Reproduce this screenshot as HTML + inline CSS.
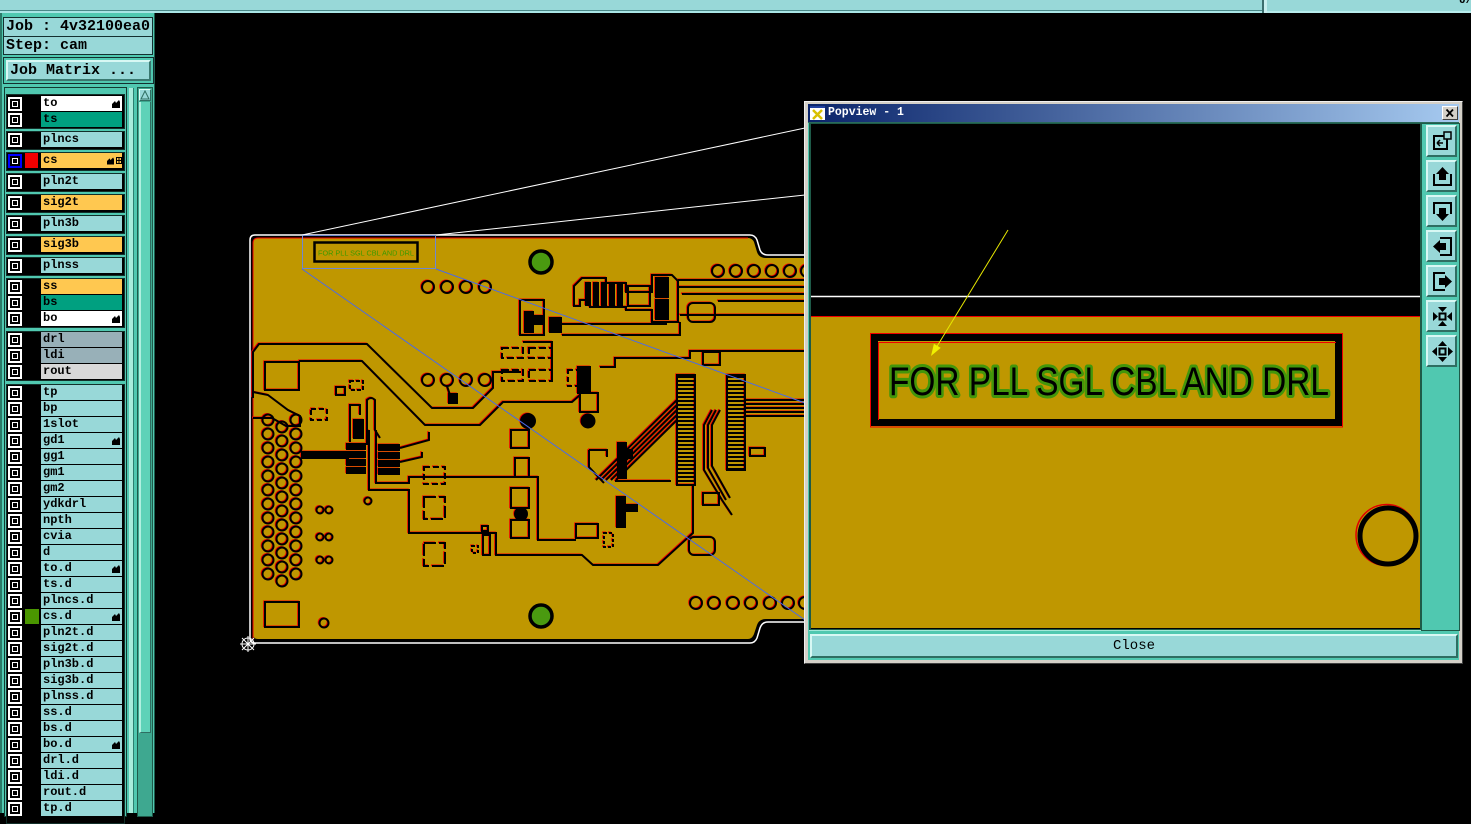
<!DOCTYPE html>
<html><head><meta charset="utf-8">
<style>
*{margin:0;padding:0;box-sizing:border-box}
body{width:1471px;height:813px;background:#000;position:relative;overflow:hidden;font-family:"Liberation Mono",monospace}
.a{position:absolute}
.g{position:absolute;left:6px;width:119px;background:#000;border:1px solid #12302a}
.cb{position:absolute;left:8px;width:14px;height:14px;background:#fff}
.cb i{position:absolute;left:2px;top:2px;width:10px;height:10px;background:#000}
.cb i b{position:absolute;left:2px;top:2px;width:6px;height:6px;border:1px solid #fff;background:#000}
.lb{position:absolute;left:41px;width:81px;height:15px;background:#98d8d8;font:bold 12px/15px "Liberation Mono",monospace;color:#000;padding-left:2px;white-space:nowrap}
.w{background:#fff}.tg{background:#00a080}.y{background:#ffc850}.gr{background:#98b0b8}.lg{background:#d8d8d8}
.h{position:absolute;right:2px;top:4px;width:8px;height:8px}
.tb{position:absolute;left:1426px;width:31px;height:32px;background:#98d8d8;border-top:2px solid #d8f8f4;border-left:2px solid #d8f8f4;border-right:2px solid #2e6e62;border-bottom:2px solid #2e6e62}
.tb svg{position:absolute;left:3px;top:3px}
</style></head><body>

<!-- top bar -->
<div class="a" style="left:0;top:0;width:1263px;height:10px;background:#98d8d8"></div>
<div class="a" style="left:0;top:10px;width:1263px;height:1px;background:#4a8888"></div>
<div class="a" style="left:0;top:11px;width:1263px;height:2px;background:#a8e4e4"></div>
<div class="a" style="left:1262px;top:0;width:2px;height:13px;background:#3c6e6e"></div>
<div class="a" style="left:1264px;top:0;width:3px;height:13px;background:#c8eeee"></div>
<div class="a" style="left:1267px;top:0;width:204px;height:11px;background:#98d8d8"></div>
<div class="a" style="left:1267px;top:11px;width:204px;height:2px;background:#b8ecec"></div>
<div class="a" style="left:1459px;top:-5px;font:bold 11px 'Liberation Mono',monospace;color:#000">U/</div>

<!-- left panel -->
<div class="a" style="left:0;top:13px;width:155px;height:800px;background:#50c8b0;border-left:2px solid #2a7a68;border-right:1px solid #1f5f50"></div>
<div class="a" style="left:3px;top:17px;width:150px;height:20px;background:#98d8d8;border:1px solid #143030;font:bold 15px/18px 'Liberation Mono',monospace;padding-left:2px;color:#000">Job : 4v32100ea0</div>
<div class="a" style="left:3px;top:36px;width:150px;height:19px;background:#98d8d8;border:1px solid #143030;font:bold 15px/17px 'Liberation Mono',monospace;padding-left:2px;color:#000">Step: cam</div>
<div class="a" style="left:3px;top:57px;width:151px;height:27px;border:1px solid #143030;background:#50c8b0"></div>
<div class="a" style="left:6px;top:60px;width:145px;height:21px;background:#98d8d8;border-top:2px solid #d8f8f4;border-left:2px solid #d8f8f4;border-right:2px solid #3a7870;border-bottom:2px solid #3a7870;font:bold 15px/17px 'Liberation Mono',monospace;padding-left:2px;color:#000">Job Matrix ...</div>

<!-- list frame -->
<div class="a" style="left:4px;top:87px;width:123px;height:730px;border:1px solid #143a32;background:#50c8b0"></div>
<div class="a" style="left:129px;top:88px;width:4px;height:725px;background:#a8ecdc"></div>
<div class="a" style="left:133px;top:88px;width:1px;height:725px;background:#2a8070"></div>
<div class="a" style="left:137px;top:87px;width:16px;height:730px;border:1px solid #1e5a4a;background:#3ea890"></div>
<div class="a" style="left:139px;top:89px;width:12px;height:12px;background:#98d8d8;border-top:1px solid #e0fff8;border-left:1px solid #e0fff8;border-right:1px solid #2e6e62;border-bottom:1px solid #2e6e62"></div>
<svg class="a" style="left:139px;top:89px" width="12" height="12"><polygon points="6,2 10,10 2,10" fill="none" stroke="#2e6e62" stroke-width="1"/></svg>
<div class="a" style="left:139px;top:102px;width:12px;height:631px;background:#5ed2b8;border-left:2px solid #b0f0e0;border-right:1px solid #2e6e62;border-bottom:1px solid #2e6e62"></div>

<!-- groups -->
<div class="g" style="top:94px;height:35px"></div>
<div class="g" style="top:131px;height:19px"></div>
<div class="g" style="top:152px;height:19px"></div>
<div class="g" style="top:173px;height:19px"></div>
<div class="g" style="top:194px;height:19px"></div>
<div class="g" style="top:215px;height:19px"></div>
<div class="g" style="top:236px;height:19px"></div>
<div class="g" style="top:257px;height:19px"></div>
<div class="g" style="top:278px;height:50px"></div>
<div class="g" style="top:331px;height:50px"></div>
<div class="g" style="top:384px;height:440px"></div>

<!-- rows -->
<div class="cb" style="top:97px"><i><b></b></i></div><div class="lb w" style="top:96px">to<svg class="h" viewBox="0 0 8 8"><path d="M0 8V4L3 1L4 3L7 0L8 2V8Z" fill="#000"/></svg></div>
<div class="cb" style="top:113px"><i><b></b></i></div><div class="lb tg" style="top:112px">ts</div>
<div class="cb" style="top:133px"><i><b></b></i></div><div class="lb" style="top:132px">plncs</div>
<div class="cb" style="top:154px;background:#0000ff"><i><b></b></i></div><div class="a" style="left:25px;top:153px;width:13px;height:15px;background:#f00000"></div><div class="lb y" style="top:153px">cs<svg class="a" style="left:66px;top:4px" width="7" height="8" viewBox="0 0 8 8"><path d="M0 8V4L3 1L4 3L7 0L8 2V8Z" fill="#000"/></svg><svg class="a" style="left:75px;top:4px" width="6" height="7"><rect x="0.5" y="0.5" width="5" height="6" fill="none" stroke="#000"/><path d="M3 1V6M1 3.5H5" stroke="#000"/></svg></div>
<div class="cb" style="top:175px"><i><b></b></i></div><div class="lb" style="top:174px">pln2t</div>
<div class="cb" style="top:196px"><i><b></b></i></div><div class="lb y" style="top:195px">sig2t</div>
<div class="cb" style="top:217px"><i><b></b></i></div><div class="lb" style="top:216px">pln3b</div>
<div class="cb" style="top:238px"><i><b></b></i></div><div class="lb y" style="top:237px">sig3b</div>
<div class="cb" style="top:259px"><i><b></b></i></div><div class="lb" style="top:258px">plnss</div>
<div class="cb" style="top:280px"><i><b></b></i></div><div class="lb y" style="top:279px">ss</div>
<div class="cb" style="top:296px"><i><b></b></i></div><div class="lb tg" style="top:295px">bs</div>
<div class="cb" style="top:312px"><i><b></b></i></div><div class="lb w" style="top:311px">bo<svg class="h" viewBox="0 0 8 8"><path d="M0 8V4L3 1L4 3L7 0L8 2V8Z" fill="#000"/></svg></div>
<div class="cb" style="top:333px"><i><b></b></i></div><div class="lb gr" style="top:332px">drl</div>
<div class="cb" style="top:349px"><i><b></b></i></div><div class="lb gr" style="top:348px">ldi</div>
<div class="cb" style="top:365px"><i><b></b></i></div><div class="lb lg" style="top:364px">rout</div>
<div class="cb" style="top:386px"><i><b></b></i></div><div class="lb" style="top:385px">tp</div>
<div class="cb" style="top:402px"><i><b></b></i></div><div class="lb" style="top:401px">bp</div>
<div class="cb" style="top:418px"><i><b></b></i></div><div class="lb" style="top:417px">1slot</div>
<div class="cb" style="top:434px"><i><b></b></i></div><div class="lb" style="top:433px">gd1<svg class="h" viewBox="0 0 8 8"><path d="M0 8V4L3 1L4 3L7 0L8 2V8Z" fill="#000"/></svg></div>
<div class="cb" style="top:450px"><i><b></b></i></div><div class="lb" style="top:449px">gg1</div>
<div class="cb" style="top:466px"><i><b></b></i></div><div class="lb" style="top:465px">gm1</div>
<div class="cb" style="top:482px"><i><b></b></i></div><div class="lb" style="top:481px">gm2</div>
<div class="cb" style="top:498px"><i><b></b></i></div><div class="lb" style="top:497px">ydkdrl</div>
<div class="cb" style="top:514px"><i><b></b></i></div><div class="lb" style="top:513px">npth</div>
<div class="cb" style="top:530px"><i><b></b></i></div><div class="lb" style="top:529px">cvia</div>
<div class="cb" style="top:546px"><i><b></b></i></div><div class="lb" style="top:545px">d</div>
<div class="cb" style="top:562px"><i><b></b></i></div><div class="lb" style="top:561px">to.d<svg class="h" viewBox="0 0 8 8"><path d="M0 8V4L3 1L4 3L7 0L8 2V8Z" fill="#000"/></svg></div>
<div class="cb" style="top:578px"><i><b></b></i></div><div class="lb" style="top:577px">ts.d</div>
<div class="cb" style="top:594px"><i><b></b></i></div><div class="lb" style="top:593px">plncs.d</div>
<div class="cb" style="top:610px"><i><b></b></i></div><div class="a" style="left:25px;top:609px;width:14px;height:15px;background:#4a9600"></div><div class="lb" style="top:609px">cs.d<svg class="h" viewBox="0 0 8 8"><path d="M0 8V4L3 1L4 3L7 0L8 2V8Z" fill="#000"/></svg></div>
<div class="cb" style="top:626px"><i><b></b></i></div><div class="lb" style="top:625px">pln2t.d</div>
<div class="cb" style="top:642px"><i><b></b></i></div><div class="lb" style="top:641px">sig2t.d</div>
<div class="cb" style="top:658px"><i><b></b></i></div><div class="lb" style="top:657px">pln3b.d</div>
<div class="cb" style="top:674px"><i><b></b></i></div><div class="lb" style="top:673px">sig3b.d</div>
<div class="cb" style="top:690px"><i><b></b></i></div><div class="lb" style="top:689px">plnss.d</div>
<div class="cb" style="top:706px"><i><b></b></i></div><div class="lb" style="top:705px">ss.d</div>
<div class="cb" style="top:722px"><i><b></b></i></div><div class="lb" style="top:721px">bs.d</div>
<div class="cb" style="top:738px"><i><b></b></i></div><div class="lb" style="top:737px">bo.d<svg class="h" viewBox="0 0 8 8"><path d="M0 8V4L3 1L4 3L7 0L8 2V8Z" fill="#000"/></svg></div>
<div class="cb" style="top:754px"><i><b></b></i></div><div class="lb" style="top:753px">drl.d</div>
<div class="cb" style="top:770px"><i><b></b></i></div><div class="lb" style="top:769px">ldi.d</div>
<div class="cb" style="top:786px"><i><b></b></i></div><div class="lb" style="top:785px">rout.d</div>
<div class="cb" style="top:802px"><i><b></b></i></div><div class="lb" style="top:801px">tp.d</div>

<!-- PCB -->
<svg class="a" style="left:0;top:0" width="1471" height="813" viewBox="0 0 1471 813">
<defs>
<pattern id="hs" width="4" height="4" patternUnits="userSpaceOnUse"><rect width="4" height="2" fill="#000"/></pattern>
<g id="tr">
<circle cx="428" cy="287" r="6"/><circle cx="447" cy="287" r="6"/><circle cx="466" cy="287" r="6"/><circle cx="485" cy="287" r="6"/>
<circle cx="428" cy="380" r="6"/><circle cx="447" cy="380" r="6"/><circle cx="466" cy="380" r="6"/><circle cx="485" cy="380" r="6"/>
<path d="M447 386L450 395"/><rect x="449" y="394" width="8" height="9" fill="#000"/>
<circle cx="718" cy="271" r="6"/><circle cx="736" cy="271" r="6"/><circle cx="754" cy="271" r="6"/><circle cx="772" cy="271" r="6"/><circle cx="790" cy="271" r="6"/><circle cx="807" cy="271" r="6"/>
<circle cx="696" cy="603" r="6"/><circle cx="714" cy="603" r="6"/><circle cx="733" cy="603" r="6"/><circle cx="751" cy="603" r="6"/><circle cx="770" cy="603" r="6"/><circle cx="788" cy="603" r="6"/><circle cx="805" cy="603" r="6"/>
<circle cx="268" cy="420" r="5.5"/><circle cx="268" cy="434" r="5.5"/><circle cx="268" cy="448" r="5.5"/><circle cx="268" cy="462" r="5.5"/><circle cx="268" cy="476" r="5.5"/><circle cx="268" cy="490" r="5.5"/><circle cx="268" cy="504" r="5.5"/><circle cx="268" cy="518" r="5.5"/><circle cx="268" cy="532" r="5.5"/><circle cx="268" cy="546" r="5.5"/><circle cx="268" cy="560" r="5.5"/><circle cx="268" cy="574" r="5.5"/>
<circle cx="282" cy="427" r="5.5"/><circle cx="282" cy="441" r="5.5"/><circle cx="282" cy="455" r="5.5"/><circle cx="282" cy="469" r="5.5"/><circle cx="282" cy="483" r="5.5"/><circle cx="282" cy="497" r="5.5"/><circle cx="282" cy="511" r="5.5"/><circle cx="282" cy="525" r="5.5"/><circle cx="282" cy="539" r="5.5"/><circle cx="282" cy="553" r="5.5"/><circle cx="282" cy="567" r="5.5"/><circle cx="282" cy="581" r="5.5"/>
<circle cx="296" cy="420" r="5.5"/><circle cx="296" cy="434" r="5.5"/><circle cx="296" cy="448" r="5.5"/><circle cx="296" cy="462" r="5.5"/><circle cx="296" cy="476" r="5.5"/><circle cx="296" cy="490" r="5.5"/><circle cx="296" cy="504" r="5.5"/><circle cx="296" cy="518" r="5.5"/><circle cx="296" cy="532" r="5.5"/><circle cx="296" cy="546" r="5.5"/><circle cx="296" cy="560" r="5.5"/><circle cx="296" cy="574" r="5.5"/>
<circle cx="320" cy="510" r="3.5"/><circle cx="329" cy="510" r="3.5"/><circle cx="320" cy="537" r="3.5"/><circle cx="329" cy="537" r="3.5"/><circle cx="320" cy="560" r="3.5"/><circle cx="329" cy="560" r="3.5"/><circle cx="368" cy="501" r="3.5"/><circle cx="324" cy="623" r="4.5"/>
<rect x="265" y="362" width="34" height="28"/><rect x="265" y="602" width="34" height="25"/>
<path d="M253 398L253 352L259 344L367 344L432 408L473 408L493 388L493 372L521 372"/>
<path d="M299 361L362 361L425 425L480 425L503 402L572 402L580 395"/>
<path d="M253 392L268 395L288 410L300 416L300 426L286 426L272 418L253 418"/>
<path d="M574 297L574 286L582 278L606 278L606 283L626 283L626 292L652 292L652 275L672 275L678 281L678 322L652 322L652 310L626 310L626 307L590 307L590 300L580 300L580 306L574 306Z"/>
<rect x="586" y="283" width="4" height="22" fill="#000"/><rect x="594" y="283" width="4" height="22" fill="#000"/><rect x="602" y="283" width="4" height="22" fill="#000"/><rect x="610" y="283" width="4" height="22" fill="#000"/><rect x="618" y="283" width="4" height="22" fill="#000"/>
<rect x="628" y="286" width="22" height="20"/>
<rect x="656" y="278" width="12" height="19" fill="#000"/><rect x="656" y="300" width="12" height="19" fill="#000"/>
<path d="M678 280H805M678 287H805M682 294H805M718 301H805"/>
<rect x="688" y="303" width="27" height="19" rx="5"/>
<path d="M562 324L667 324"/>
<rect x="520" y="300" width="24" height="35"/><rect x="525" y="312" width="8" height="20" fill="#000"/><rect x="535" y="316" width="7" height="8" fill="#000"/>
<rect x="550" y="318" width="11" height="14" fill="#000"/>
<path d="M523 342L552 342L552 382"/>
<path d="M562 335L680 335L680 322M680 315L805 315M600 367L615 367L615 358L690 358L690 351L805 351"/>
<rect x="502" y="348" width="21" height="10" stroke-dasharray="7 3"/><rect x="529" y="348" width="23" height="10" stroke-dasharray="7 3"/><rect x="502" y="370" width="21" height="11" stroke-dasharray="7 3"/><rect x="529" y="370" width="23" height="11" stroke-dasharray="7 3"/>
<rect x="578" y="367" width="12" height="26" fill="#000"/><rect x="580" y="393" width="18" height="19"/><circle cx="588" cy="421" r="6.5" fill="#000"/><rect x="568" y="370" width="10" height="16" stroke-dasharray="5 3"/>
<rect x="703" y="352" width="17" height="13"/>
<circle cx="528" cy="421" r="7" fill="#000"/>
<path d="M369 430L369 490L409 490L409 533L496 533L496 555L582 555L593 565L658 565L693 533L693 485"/>
<path d="M376 430L376 483L409 483L409 477L538 477L538 540L576 540"/>
<rect x="424" y="467" width="21" height="17" stroke-dasharray="6 3"/>
<rect x="424" y="497" width="21" height="22" stroke-dasharray="12 3"/><rect x="424" y="543" width="21" height="23" stroke-dasharray="12 3"/>
<rect x="511" y="430" width="18" height="18"/><rect x="515" y="458" width="14" height="19"/><rect x="511" y="488" width="18" height="20"/><rect x="511" y="520" width="18" height="18"/>
<circle cx="521" cy="514" r="6" fill="#000"/>
<rect x="472" y="546" width="6" height="7" stroke-dasharray="3 2"/><rect x="483" y="535" width="7" height="20"/><rect x="482" y="526" width="6" height="5"/>
<rect x="689" y="537" width="26" height="18" rx="5"/><rect x="703" y="493" width="16" height="12"/>
<rect x="302" y="452" width="46" height="6" fill="#000"/>
<rect x="347" y="444" width="18" height="5" fill="#000"/><rect x="347" y="452" width="18" height="5" fill="#000"/><rect x="347" y="460" width="18" height="5" fill="#000"/><rect x="347" y="468" width="18" height="5" fill="#000"/>
<rect x="379" y="445" width="20" height="5" fill="#000"/><rect x="379" y="453" width="20" height="5" fill="#000"/><rect x="379" y="461" width="20" height="5" fill="#000"/><rect x="379" y="469" width="20" height="5" fill="#000"/>
<path d="M400 448L429 440L429 432M400 462L422 457L422 452"/>
<path d="M350 442L350 405L360 405L360 415M367 445L367 400Q371 396 375 400L375 430L380 438"/>
<rect x="354" y="420" width="9" height="18" fill="#000"/>
<rect x="336" y="387" width="9" height="8"/><rect x="350" y="381" width="13" height="9" stroke-dasharray="4 2"/><rect x="311" y="409" width="16" height="11" stroke-dasharray="5 3"/>
<path d="M589 450L589 467L604 483M589 450L607 450L607 457M615 481H671"/>
<rect x="618" y="443" width="8" height="35" fill="#000"/><rect x="626" y="450" width="6" height="8" fill="#000"/>
<rect x="617" y="497" width="8" height="30" fill="#000"/><rect x="625" y="505" width="12" height="6" fill="#000"/>
<rect x="576" y="524" width="22" height="14"/><rect x="604" y="533" width="9" height="14" stroke-dasharray="3 2"/>
<path d="M596 480L677 400M601 480L677 405M606 480L677 410M611 480L677 415M616 480L677 420"/>
<path d="M712 410L704 425L704 470L722 500L732 515M716 410L708 425L708 468L726 500M720 410L712 425L712 466L730 498"/>
<path d="M745 400H805M745 404H805M745 408H805M745 412H805M745 416H805"/>
<rect x="750" y="448" width="15" height="8"/>
<rect x="677" y="375" width="18" height="110"/><rect x="727" y="375" width="18" height="95"/>
</g>
</defs>
<!-- board -->
<path d="M253 243Q253 238 258 238L748 238Q752 238 754 242L757 252Q759 258 766 258L810 258L810 619L766 619Q759 619 757 625L754 634Q752 639 748 639L258 639Q253 639 253 634Z" fill="#bf9700"/>
<path d="M253 640L253 243Q253 238 258 238L748 238" fill="none" stroke="#f00000" stroke-width="1"/>
<path d="M250 638L250 240Q250 235 255 235L750 235Q755 235 757 240L760 250Q762 255 768 255L810 255M810 622L768 622Q762 622 760 628L757 638Q755 643 750 643L255 643Q250 643 250 638" fill="none" stroke="#fff" stroke-width="1.5"/>
<use href="#tr" stroke="#f00000" stroke-width="1.6" fill="none" transform="translate(-1,-0.7)"/>
<use href="#tr" stroke="#000" stroke-width="2" fill="none"/>
<rect x="677" y="375" width="18" height="110" fill="url(#hs)"/><rect x="727" y="375" width="18" height="95" fill="url(#hs)"/>
<circle cx="541" cy="262" r="11" fill="#4a9a10" stroke="#000" stroke-width="3.5"/>
<circle cx="541" cy="616" r="11" fill="#4a9a10" stroke="#000" stroke-width="3.5"/>
<rect x="314.5" y="242.5" width="103" height="19" fill="none" stroke="#000" stroke-width="2.5"/>
<text x="318" y="255.5" font-family="Liberation Sans, sans-serif" font-size="7.5" fill="#3a9a00" textLength="96" lengthAdjust="spacingAndGlyphs">FOR PLL SGL CBL AND DRL</text>
<rect x="302.5" y="235.5" width="133" height="33" fill="none" stroke="#7088d0" stroke-width="1"/>
<path d="M302 235L805 128M436 235L805 195" stroke="#fff" stroke-width="1"/>
<path d="M302 269L805 620M436 269L805 403" stroke="#4a6ae8" stroke-width="1"/>
<g stroke="#fff" stroke-width="1" fill="none"><circle cx="248" cy="644" r="6"/><path d="M240 644H256M248 636V652M242 638L254 650M254 638L242 650"/></g>
</svg>

<!-- popup -->
<div class="a" style="left:804px;top:101px;width:659px;height:563px;background:#d4d0c8;border-top:1px solid #f0f0f0;border-left:1px solid #f0f0f0;border-right:1px solid #404040;border-bottom:1px solid #404040"></div>
<div class="a" style="left:808px;top:104px;width:651px;height:18px;background:linear-gradient(90deg,#0a246a,#a6caf0)"></div>
<div class="a" style="left:810px;top:106px;width:15px;height:14px;background:#fff;border-top:2px solid #2040a0"></div>
<svg class="a" style="left:810px;top:108px" width="15" height="12"><path d="M3 2L12 11M12 2L3 11" stroke="#d8c000" stroke-width="2.5"/></svg>
<div class="a" style="left:828px;top:104px;height:18px;font:bold 11.5px/18px 'Liberation Mono',monospace;color:#fff;white-space:pre">Popview - 1</div>
<div class="a" style="left:1442px;top:106px;width:16px;height:14px;background:#d4d0c8;border-top:1px solid #fff;border-left:1px solid #fff;border-right:1px solid #404040;border-bottom:1px solid #404040"></div>
<svg class="a" style="left:1442px;top:106px" width="16" height="14"><path d="M4.5 3.5L11 10.5M11 3.5L4.5 10.5" stroke="#000" stroke-width="1.8"/></svg>
<div class="a" style="left:808px;top:122px;width:651px;height:538px;background:#50c8b0;border-top:1px solid #2a6a5a"></div>
<div class="a" style="left:809px;top:123px;width:614px;height:508px;background:#1e5a48;border-right:1px solid #a0e8d8;border-bottom:1px solid #a0e8d8"></div>
<svg class="a" style="left:811px;top:124px" width="609" height="505" viewBox="811 124 609 505">
<rect x="811" y="124" width="609" height="505" fill="#000"/>
<path d="M811 296.5H1420" stroke="#fff" stroke-width="1.5"/>
<rect x="811" y="316" width="609" height="312" fill="#bf9700"/>
<path d="M811 316.5H1420" stroke="#f00000" stroke-width="1"/>
<rect x="870.5" y="333.5" width="472" height="93.5" fill="none" stroke="#f00000" stroke-width="1"/>
<rect x="874.5" y="337.5" width="464" height="85" fill="none" stroke="#000" stroke-width="7"/>
<path d="M878 342.5H1336M878.5 342V420" stroke="#f00000" stroke-width="1"/>
<text x="889" y="395" font-family="Liberation Sans, sans-serif" font-size="40" fill="#000" stroke="#43960a" stroke-width="6" paint-order="stroke" stroke-linejoin="round" textLength="440" lengthAdjust="spacingAndGlyphs">FOR PLL SGL CBL AND DRL</text>
<circle cx="1386.5" cy="535" r="30.5" fill="none" stroke="#e00000" stroke-width="1.5"/>
<circle cx="1388" cy="536" r="28" fill="none" stroke="#000" stroke-width="5"/>
<path d="M1008 230L936 348" stroke="#e8e800" stroke-width="1"/>
<polygon points="931,356 940.7,347.9 933.9,343.7" fill="#f0f000"/>
</svg>
<!-- toolbar -->
<div class="a" style="left:1421px;top:123px;width:39px;height:508px;background:#50c8b0;border:1px solid #1e5a48"></div>
<div class="tb" style="top:125px"><svg width="24" height="24"><rect x="3" y="6" width="13" height="13" fill="none" stroke="#000" stroke-width="2"/><rect x="13" y="2" width="7" height="7" fill="#98d8d8" stroke="#000" stroke-width="1.5"/><path d="M6 13H12M6 13L9 10M6 13L9 16" stroke="#000" stroke-width="1.5" fill="none"/></svg></div>
<div class="tb" style="top:160px"><svg width="24" height="24"><path d="M3 9V20H20V9" fill="none" stroke="#000" stroke-width="2"/><polygon points="11.5,2 18,9 15,9 15,15 8,15 8,9 5,9" fill="#000"/></svg></div>
<div class="tb" style="top:195px"><svg width="24" height="24"><path d="M3 14V3H20V14" fill="none" stroke="#000" stroke-width="2"/><polygon points="11.5,21 18,14 15,14 15,8 8,8 8,14 5,14" fill="#000"/></svg></div>
<div class="tb" style="top:230px"><svg width="24" height="24"><path d="M9 3H20V20H9" fill="none" stroke="#000" stroke-width="2"/><polygon points="2,11.5 9,5 9,8 15,8 15,15 9,15 9,18" fill="#000"/></svg></div>
<div class="tb" style="top:265px"><svg width="24" height="24"><path d="M14 3H3V20H14" fill="none" stroke="#000" stroke-width="2"/><polygon points="21,11.5 14,5 14,8 8,8 8,15 14,15 14,18" fill="#000"/></svg></div>
<div class="tb" style="top:300px"><svg width="24" height="24"><rect x="8.5" y="8.5" width="6" height="6" fill="none" stroke="#000" stroke-width="2"/><polygon points="11.5,7 7,2 16,2" fill="#000"/><polygon points="11.5,16 7,21 16,21" fill="#000"/><polygon points="7,11.5 2,7 2,16" fill="#000"/><polygon points="16,11.5 21,7 21,16" fill="#000"/></svg></div>
<div class="tb" style="top:335px"><svg width="24" height="24"><rect x="8.5" y="8.5" width="6" height="6" fill="none" stroke="#000" stroke-width="2"/><polygon points="11.5,1 7,6 16,6" fill="#000"/><polygon points="11.5,22 7,17 16,17" fill="#000"/><polygon points="1,11.5 6,7 6,16" fill="#000"/><polygon points="22,11.5 17,7 17,16" fill="#000"/></svg></div>
<!-- close button -->
<div class="a" style="left:810px;top:634px;width:648px;height:24px;background:#98d8d8;border-top:2px solid #d8f8f4;border-left:2px solid #d8f8f4;border-right:2px solid #2e6e62;border-bottom:2px solid #2e6e62;font:14px/20px 'Liberation Mono',monospace;color:#000;text-align:center">Close</div>
</body></html>
